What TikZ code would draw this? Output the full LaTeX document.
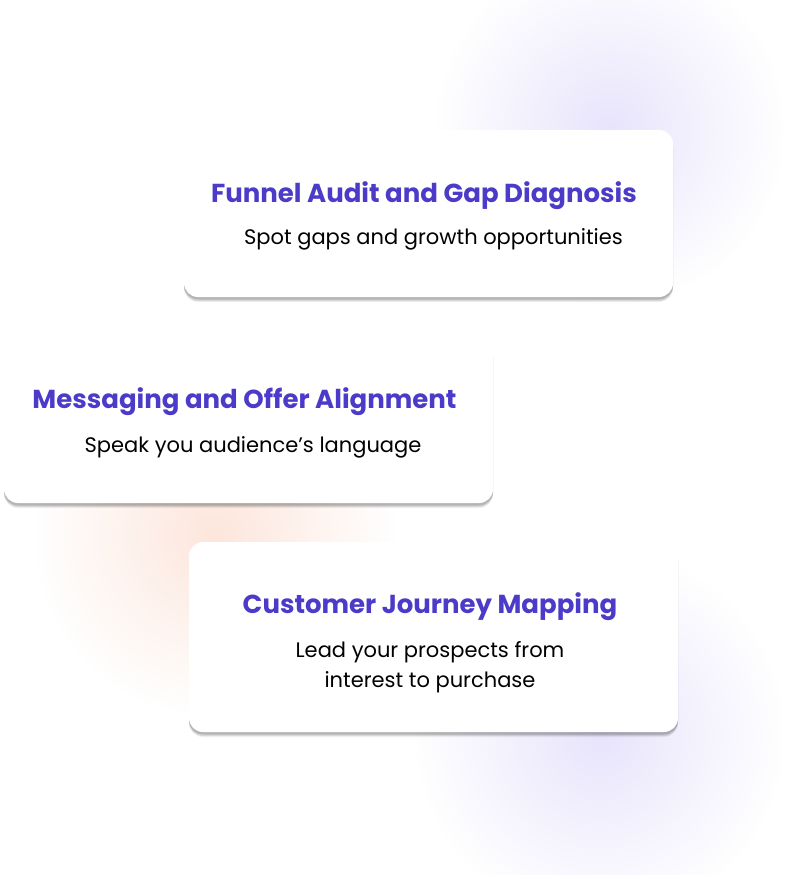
\documentclass[tikz,border=0pt]{standalone}
\usepackage{fontspec}
\setmainfont{Poppins}
\usetikzlibrary{shadows,fadings}
\definecolor{titleblue}{RGB}{76,58,200}
\definecolor{glowviolet}{RGB}{232,228,252}
\definecolor{gloworange}{RGB}{253,230,220}
\tikzfading[name=glowfade, inner color=transparent!0, outer color=transparent!100]
\begin{document}
\begin{tikzpicture}[x=1pt, y=-1pt,
  card/.style={fill=white, rounded corners=14pt, minimum width=489pt, inner sep=0pt,
    drop shadow={shadow xshift=0pt, shadow yshift=-5pt, opacity=.06, fill=black},
    drop shadow={shadow xshift=0pt, shadow yshift=-4pt, opacity=.10, fill=black},
    drop shadow={shadow xshift=0pt, shadow yshift=-2.5pt, opacity=.16, fill=black}},
  cardtitle/.style={anchor=base, text=titleblue, font=\bfseries\fontsize{26}{30}\selectfont, inner sep=0pt},
  cardtext/.style={anchor=base, text=black, align=center, font=\fontsize{21}{30}\selectfont, inner sep=0pt}]
  \useasboundingbox (0,0) rectangle (796,875);
  \fill[white] (0,0) rectangle (796,875);
  \fill[glowviolet, path fading=glowfade] (610,130) circle (175);
  \fill[gloworange, path fading=glowfade] (215,535) circle (180);
  \fill[glowviolet, path fading=glowfade] (600,735) circle (185);
  \node[card, minimum height=167pt] (c1) at (428.5,213.5) {};
  \node[card, minimum height=163pt] (c2) at (248.5,421.5) {};
  \node[card, minimum height=190pt] (c3) at (433.5,637) {};
  \node[cardtitle] (t1) at (424,202) {Funnel Audit and Gap Diagnosis};
  \node[cardtext] (s1) at (433.5,244) {Spot gaps and growth opportunities};
  \node[cardtitle] (t2) at (244.5,408) {Messaging and Offer Alignment};
  \node[cardtext] (s2) at (253,452) {Speak you audience’s language};
  \node[cardtitle] (t3) at (430,613) {Customer Journey Mapping};
  \node[cardtext] (s3) at (430,687) {Lead your prospects from\\interest to purchase};
\end{tikzpicture}
\end{document}
